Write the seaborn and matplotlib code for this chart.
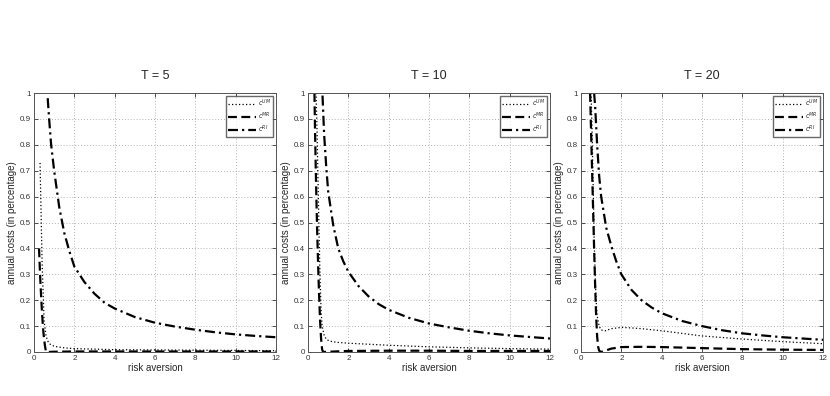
import matplotlib
matplotlib.use("Agg")
import matplotlib.pyplot as plt
import pandas as pd
import seaborn as sns

TITLES = ["T = 5", "T = 10", "T = 20"]
SERIES = ["$c^{UM}$", "$c^{MR}$", "$c^{RI}$"]
X_TICKS = [0, 2, 4, 6, 8, 10, 12]
Y_TICKS = [0, 0.1, 0.2, 0.3, 0.4, 0.5, 0.6, 0.7, 0.8, 0.9, 1]
Y_TICK_LABELS = ["0", "0.1", "0.2", "0.3", "0.4", "0.5", "0.6", "0.7", "0.8", "0.9", "1"]

# T = 5
um5_x = [0.3, 0.4, 0.5, 0.6, 0.7, 0.8, 1.0, 1.5, 2, 3, 4, 6, 8, 10, 12]
um5_y = [0.73, 0.35, 0.12, 0.06, 0.04, 0.03, 0.022, 0.016, 0.013, 0.011, 0.009, 0.008, 0.007, 0.006, 0.005]
mr5_x = [0.25, 0.3, 0.35, 0.4, 0.45, 0.5, 0.55, 0.6, 0.7, 1, 2, 4, 6, 8, 10, 12]
mr5_y = [0.4, 0.3, 0.22, 0.15, 0.09, 0.05, 0.02, 0.0, 0.0, 0.001, 0.002, 0.002, 0.002, 0.002, 0.002, 0.002]
ri5_x = [0.68, 0.75, 0.85, 1.0, 1.25, 1.5, 1.75, 2, 2.5, 3, 3.5, 4, 5, 6, 7, 8, 9, 10, 11, 12]
ri5_y = [0.98, 0.9, 0.8, 0.7, 0.56, 0.46, 0.39, 0.33, 0.27, 0.225, 0.19, 0.168, 0.135, 0.113, 0.098, 0.086, 0.076, 0.068, 0.062, 0.057]

# T = 10
um10_x = [0.4, 0.45, 0.5, 0.55, 0.6, 0.65, 0.7, 0.8, 0.9, 1.0, 1.2, 1.5, 2, 3, 4, 6, 8, 10, 12]
um10_y = [1.0, 0.85, 0.65, 0.45, 0.28, 0.16, 0.1, 0.065, 0.05, 0.045, 0.04, 0.037, 0.034, 0.03, 0.026, 0.02, 0.016, 0.013, 0.011]
mr10_x = [0.32, 0.35, 0.4, 0.45, 0.5, 0.55, 0.6, 0.65, 0.7, 0.75, 1.0, 2, 4, 6, 8, 10, 12]
mr10_y = [1.0, 0.85, 0.65, 0.48, 0.34, 0.22, 0.12, 0.05, 0.01, 0.0, 0.001, 0.004, 0.005, 0.005, 0.004, 0.004, 0.004]
ri10_x = [0.72, 0.8, 0.9, 1.0, 1.25, 1.5, 1.75, 2, 2.5, 3, 3.5, 4, 5, 6, 7, 8, 9, 10, 11, 12]
ri10_y = [0.99, 0.84, 0.72, 0.62, 0.49, 0.4, 0.35, 0.31, 0.255, 0.215, 0.185, 0.163, 0.132, 0.11, 0.095, 0.082, 0.072, 0.064, 0.058, 0.052]

# T = 20
um20_x = [0.5, 0.55, 0.6, 0.65, 0.7, 0.75, 0.8, 0.9, 1.0, 1.2, 1.5, 2, 2.5, 3, 4, 5, 6, 8, 10, 12]
um20_y = [1.0, 0.85, 0.65, 0.45, 0.3, 0.2, 0.14, 0.1, 0.085, 0.082, 0.09, 0.095, 0.093, 0.09, 0.082, 0.072, 0.062, 0.05, 0.04, 0.032]
mr20_x = [0.45, 0.5, 0.55, 0.6, 0.65, 0.7, 0.75, 0.8, 0.85, 0.9, 1.0, 1.2, 1.5, 2, 3, 4, 6, 8, 10, 12]
mr20_y = [1.0, 0.85, 0.7, 0.55, 0.4, 0.26, 0.14, 0.06, 0.02, 0.005, 0.0, 0.005, 0.013, 0.019, 0.02, 0.019, 0.015, 0.011, 0.009, 0.008]
ri20_x = [0.65, 0.7, 0.8, 0.9, 1.0, 1.25, 1.5, 1.75, 2, 2.5, 3, 3.5, 4, 5, 6, 7, 8, 9, 10, 11, 12]
ri20_y = [1.0, 0.95, 0.8, 0.68, 0.6, 0.48, 0.41, 0.35, 0.3, 0.24, 0.2, 0.172, 0.15, 0.12, 0.1, 0.084, 0.072, 0.064, 0.057, 0.052, 0.047]

PANELS = [
    [(um5_x, um5_y), (mr5_x, mr5_y), (ri5_x, ri5_y)],
    [(um10_x, um10_y), (mr10_x, mr10_y), (ri10_x, ri10_y)],
    [(um20_x, um20_y), (mr20_x, mr20_y), (ri20_x, ri20_y)],
]

LINE_STYLES = [
    {"linestyle": (0, (1, 1.8)), "linewidth": 0.9},
    {"linestyle": (0, (4, 2)), "linewidth": 1.6},
    {"linestyle": (0, (4.5, 1.8, 1, 1.8)), "linewidth": 1.6},
]


def main() -> None:
    sns.set_theme(style="white")
    plt.rcParams["font.family"] = ["Liberation Sans", "DejaVu Sans"]
    plt.rcParams["mathtext.fontset"] = "dejavusans"

    fig = plt.figure(figsize=(8.3, 3.96), dpi=100)
    lefts = [34 / 830, 308 / 830, 581 / 830]
    for left, title, panel in zip(lefts, TITLES, PANELS):
        ax = fig.add_axes([left, 44 / 396, 242 / 830, 259 / 396])
        for name, (xs, ys), style in zip(SERIES, panel, LINE_STYLES):
            df = pd.DataFrame({"x": xs, "y": ys})
            sns.lineplot(data=df, x="x", y="y", ax=ax, color="black", label=name, sort=False,
                         estimator=None, **style)
        ax.set_xlim(0, 12)
        ax.set_ylim(0, 1)
        ax.set_xticks(X_TICKS)
        ax.set_yticks(Y_TICKS)
        ax.set_yticklabels(Y_TICK_LABELS)
        ax.tick_params(direction="in", length=3, width=0.6, labelsize=5.8, pad=2,
                       top=True, right=True, bottom=True, left=True, colors="#333333")
        ax.grid(True, linestyle=(0, (1, 2.5)), color="#999999", linewidth=0.6)
        for spine in ax.spines.values():
            spine.set_color("#555555")
            spine.set_linewidth(0.7)
        ax.set_title(title, fontsize=9, pad=10)
        ax.set_xlabel("risk aversion", fontsize=7, labelpad=1)
        ax.set_ylabel("annual costs (in percentage)", fontsize=7, labelpad=2)
        leg = ax.legend(loc="upper right", fontsize=4.8, frameon=True, fancybox=False,
                        handlelength=4.2, handletextpad=0.2, borderpad=0.35,
                        labelspacing=0.2, borderaxespad=0.4)
        leg.get_frame().set_edgecolor("#444444")
        leg.get_frame().set_linewidth(1.0)
    fig.savefig("out.png", dpi=100)
    plt.close(fig)


if __name__ == "__main__":
    main()
